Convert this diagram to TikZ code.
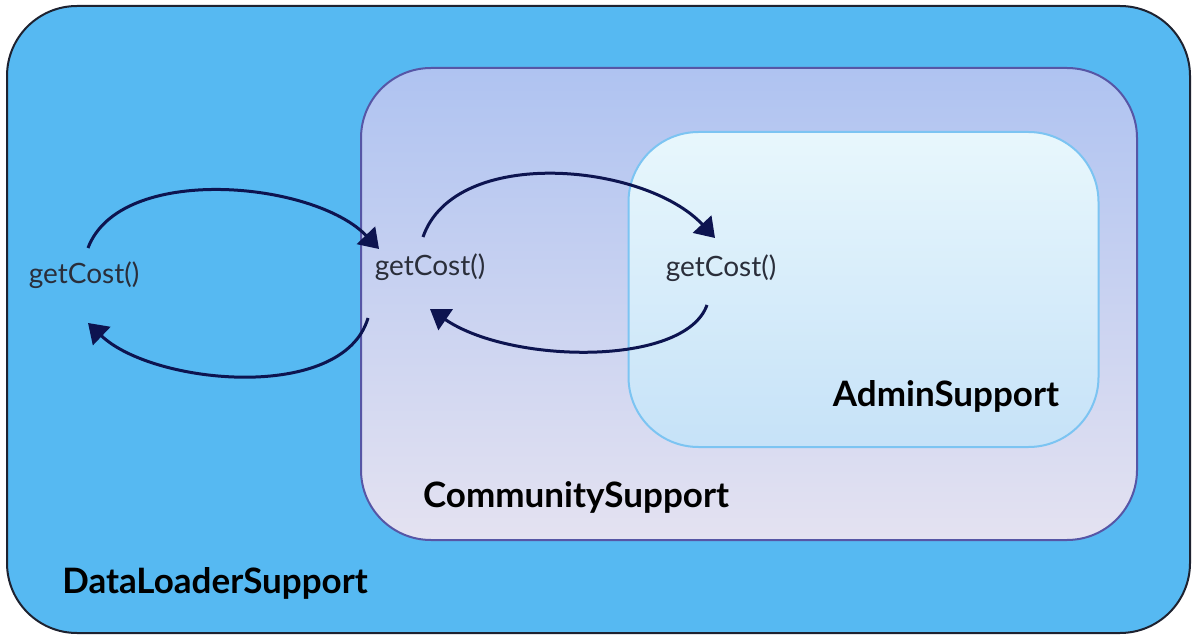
\documentclass[tikz,border=0pt]{standalone}
\usepackage{fontspec}
\setmainfont{Lato}
\usetikzlibrary{arrows.meta}
\definecolor{dlsfill}{HTML}{56B9F2}
\definecolor{dlsline}{HTML}{1E2230}
\definecolor{cstop}{HTML}{AFC3F1}
\definecolor{csbottom}{HTML}{E4E2F1}
\definecolor{csline}{HTML}{5656A6}
\definecolor{astop}{HTML}{E8F7FC}
\definecolor{asbottom}{HTML}{C6E2F8}
\definecolor{asline}{HTML}{7CC4F2}
\definecolor{callnavy}{HTML}{0D1450}
\definecolor{calltext}{HTML}{2A2E3A}

\begin{document}
\begin{tikzpicture}[x=1pt, y=-1pt,
    every node/.style={inner sep=0pt},
    layer/.style={rectangle, rounded corners=70pt, line width=2pt},
    call/.style={font=\fontsize{28}{33}\selectfont, text=calltext},
    title/.style={font=\fontsize{35}{42}\selectfont\bfseries, text=black},
    flow/.style={-{Triangle[length=19pt,width=25pt]}, line width=3pt, callnavy}]
                \useasboundingbox (0,0) rectangle (1196,636);

                % Nested support layers
                \node[layer, draw=dlsline, fill=dlsfill, minimum width=1183pt, minimum height=627pt] (dls) at (598.5,319.5) {};
                \node[layer, draw=csline, top color=cstop, bottom color=csbottom, minimum width=776pt, minimum height=472pt] (cs) at (749,304) {};
                \node[layer, draw=asline, top color=astop, bottom color=asbottom, minimum width=470pt, minimum height=315pt] (as) at (863.5,289.5) {};

                % Layer names
                \node[title] (dlsname) at (215,583) {DataLoaderSupport};
                \node[title] (csname) at (576,497) {CommunitySupport};
                \node[title] (asname) at (946,396) {AdminSupport};

                % Method calls
                \node[call] (gc1) at (84,275) {getCost()};
                \node[call] (gc2) at (430,267) {getCost()};
                \node[call] (gc3) at (721,268) {getCost()};

                % Calls passed inwards
                \draw[flow] ([shift={(4,-27)}]gc1.center) .. controls +(32,-85) and +(-65,-68) .. ([shift={(-51,-18)}]gc2.center);
                \draw[flow] ([shift={(-7,-30)}]gc2.center) .. controls +(32,-92) and +(-70,-75) .. ([shift={(-6,-30)}]gc3.center);

                % Costs returned outwards
                \draw[flow] ([shift={(-14,37)}]gc3.center) .. controls +(-22,62) and +(80,55) .. ([shift={(0,42)}]gc2.center);
                \draw[flow] ([shift={(-62,51)}]gc2.center) .. controls +(-25,85) and +(65,62) .. ([shift={(4,48)}]gc1.center);
            \end{tikzpicture}
\end{document}
